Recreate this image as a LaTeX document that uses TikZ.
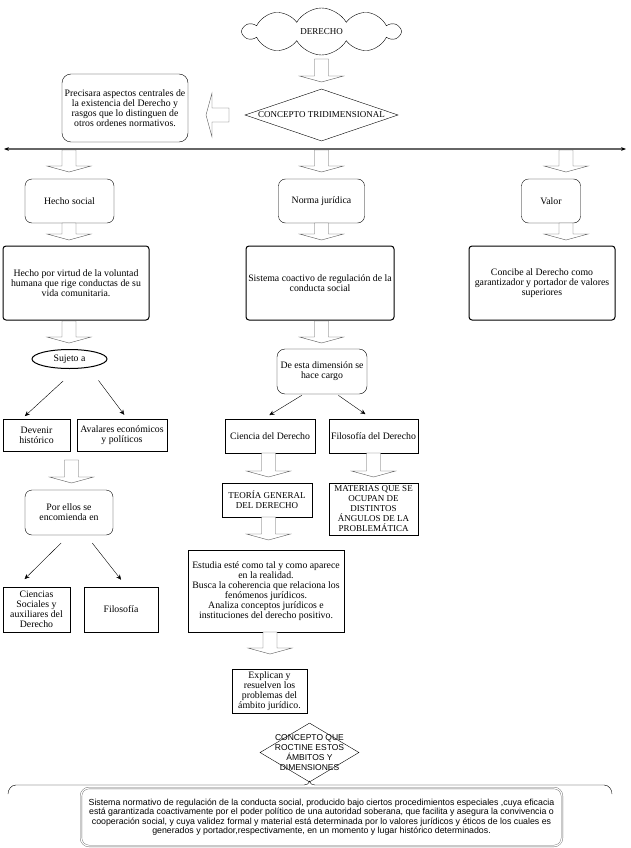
\documentclass[tikz,border=0pt]{standalone}
\usepackage{fontspec}
\setmainfont{Liberation Serif}
\newfontfamily\helv{Liberation Sans}
\usetikzlibrary{arrows.meta}
\usetikzlibrary{shapes.geometric}
\usetikzlibrary{shapes.symbols}

\begin{document}
\begin{tikzpicture}[x=1pt, y=-1pt, font=\fontsize{9.8}{10}\selectfont,
	arrows={-Stealth[length=5pt,width=4.5pt]},
	box/.style={draw, align=center, inner sep=1pt},
	soft/.style={box, rounded corners=7pt},
	heavy/.style={box, line width=1pt, rounded corners=3pt},
	caps/.style={font=\fontsize{9}{10}\selectfont},
	pics/blockdown/.style={code={\draw[-, black!65, fill=white] (-7,0) -- (-7,#1-6) -- (-22,#1-6) -- (0,#1) -- (22,#1-6) -- (7,#1-6) -- (7,0) -- cycle;}}]
	\useasboundingbox (0,0) rectangle (630,848);

	\node[draw, cloud, cloud puffs=10, cloud puff arc=120, aspect=3.3, minimum width=156pt, minimum height=47pt, caps] (derecho) at (321.5,31.5) {DERECHO};
	\pic at (321.5,59) {blockdown=23};
	\node[draw, diamond, minimum width=153pt, minimum height=52pt, inner sep=0pt] (tridim) at (321.5,115) {};
	\node[caps] (tridimtext) at (tridim) {CONCEPTO TRIDIMENSIONAL};
	\pic[rotate=-90] at (229,115) {blockdown=23};
	\node[soft, rounded corners=9pt, minimum width=126pt, minimum height=68pt] (precisa) at (125,108) {Precisara aspectos centrales de\\la existencia del Derecho y\\rasgos que lo distinguen de\\otros ordenes normativos.};

	\coordinate (ejeL) at (4,149);
	\coordinate (ejeR) at (626,149);
	\draw[black!60, line width=1.2pt, {Stealth[black,length=5pt]}-{Stealth[black,length=5pt]}] (ejeL) -- (ejeR);
	\pic at (69,150) {blockdown=22};
	\pic at (321.5,150) {blockdown=22};
	\pic at (566,150) {blockdown=22};

	% las tres dimensiones
	\node[soft, minimum width=89pt, minimum height=44pt] (hecho) at (69.5,201) {Hecho social};
	\node[soft, minimum width=86pt, minimum height=44pt] (norma) at (321.5,201) {Norma jurídica};
	\node[soft, minimum width=59pt, minimum height=44pt] (valor) at (551,201) {Valor};
	\pic at (69,223) {blockdown=17};
	\pic at (321.5,223) {blockdown=17};
	\pic at (566,223) {blockdown=17};
	\node[heavy, minimum width=146pt, minimum height=74pt] (hechodef) at (76,283) {Hecho por virtud de la voluntad\\humana que rige conductas de su\\vida comunitaria.};
	\node[heavy, minimum width=148pt, minimum height=74pt] (normadef) at (320,283) {Sistema coactivo de regulación de la\\conducta social};
	\node[heavy, minimum width=146pt, minimum height=74pt] (valordef) at (542,283) {Concibe al Derecho como\\garantizador y portador de valores\\superiores};
	\pic at (69,321) {blockdown=22};
	\pic at (321.5,321) {blockdown=22};

	% columna del hecho social
	\node[draw, ellipse, line width=1pt, minimum width=75pt, minimum height=19pt, inner sep=0pt] (sujeto) at (69.5,359) {Sujeto a};
	\node[box, minimum width=67pt, minimum height=32pt] (devenir) at (36.5,435) {Devenir\\histórico};
	\node[box, minimum width=90pt, minimum height=32pt] (avalares) at (122,435) {Avalares económicos\\y políticos};
	\draw[shorten <=18pt, shorten >=4pt] (sujeto.-55) -- (devenir.132);
	\draw[shorten <=16pt, shorten >=5pt] (sujeto.-24) -- (avalares.72);
	\pic at (71.5,460) {blockdown=23};
	\node[soft, minimum width=88pt, minimum height=45pt] (porellos) at (69,512.5) {Por ellos se\\encomienda en};
	\node[box, minimum width=67pt, minimum height=45pt] (ciencias) at (36.5,609.5) {Ciencias\\Sociales y\\auxiliares del\\Derecho};
	\node[box, minimum width=74pt, minimum height=45pt] (filosofia) at (121,609.5) {Filosofía};
	\draw[shorten <=11pt, shorten >=11pt] (porellos.south) -- (ciencias.131);
	\draw[shorten <=10pt, shorten >=9pt] (porellos.-53) -- (filosofia.76);

	% columna de la norma juridica
	\node[soft, rounded corners=8pt, minimum width=90pt, minimum height=45pt] (desta) at (322,371.5) {De esta dimensión se\\hace cargo};
	\node[box, minimum width=90pt, minimum height=34pt] (ciencia) at (270,436) {Ciencia del Derecho};
	\node[box, minimum width=89pt, minimum height=34pt] (filder) at (373.5,436) {Filosofía del Derecho};
	\draw[shorten <=2pt, shorten >=7pt] (desta.-129) -- (ciencia.111);
	\draw[shorten <=2pt, shorten >=8pt] (desta.-57) -- (filder.95);
	\pic at (268.5,453) {blockdown=24};
	\pic at (373.5,453) {blockdown=24};
	\node[box, caps, minimum width=90pt, minimum height=34pt] (teoria) at (267,500) {TEORÍA GENERAL\\DEL DERECHO};
	\node[box, caps, minimum width=89pt, minimum height=52pt] (materias) at (373.5,509) {MATERIAS QUE SE\\OCUPAN DE\\DISTINTOS\\ÁNGULOS DE LA\\PROBLEMÁTICA};
	\pic at (268.5,517) {blockdown=23};
	\node[box, minimum width=156pt, minimum height=82pt] (estudia) at (266,591) {Estudia esté como tal y como aparece\\en la realidad.\\Busca la coherencia que relaciona los\\fenómenos jurídicos.\\Analiza conceptos jurídicos e\\instituciones del derecho positivo.};
	\pic at (270,632) {blockdown=22};
	\node[box, minimum width=75pt, minimum height=44pt] (explican) at (269.5,691) {Explican y\\resuelven los\\problemas del\\ámbito jurídico.};

	% concepto final
	\node[draw, diamond, minimum width=99pt, minimum height=59pt, inner sep=0pt] (rutina) at (309.5,752.5) {};
	\node[font=\helv\fontsize{8.5}{10}\selectfont, align=center] (rutinatext) at (rutina) {CONCEPTO QUE\\ROCTINE ESTOS\\ÁMBITOS Y\\DIMENSIONES};
	\draw[-] (8,794) to[out=90,in=180] (16,785) -- (304,785) to[out=0,in=-90] (309.5,781) to[out=-90,in=180] (315,785) -- (604,785) to[out=0,in=90] (612,794);
	\node[draw=black!60, double, double distance=1.2pt, rounded corners=8pt, minimum width=481pt, minimum height=58pt, align=center, font=\helv\fontsize{8.8}{9.4}\selectfont] (definicion) at (321.5,817) {Sistema normativo de regulación de la conducta social, producido bajo ciertos procedimientos especiales ,cuya eficacia\\está garantizada coactivamente por el poder político de una autoridad soberana, que facilita y asegura la convivencia o\\cooperación social, y cuya validez formal y material está determinada  por lo valores jurídicos y éticos de los cuales es\\generados y portador,respectivamente, en un momento y lugar histórico determinados.};
\end{tikzpicture}
\end{document}
